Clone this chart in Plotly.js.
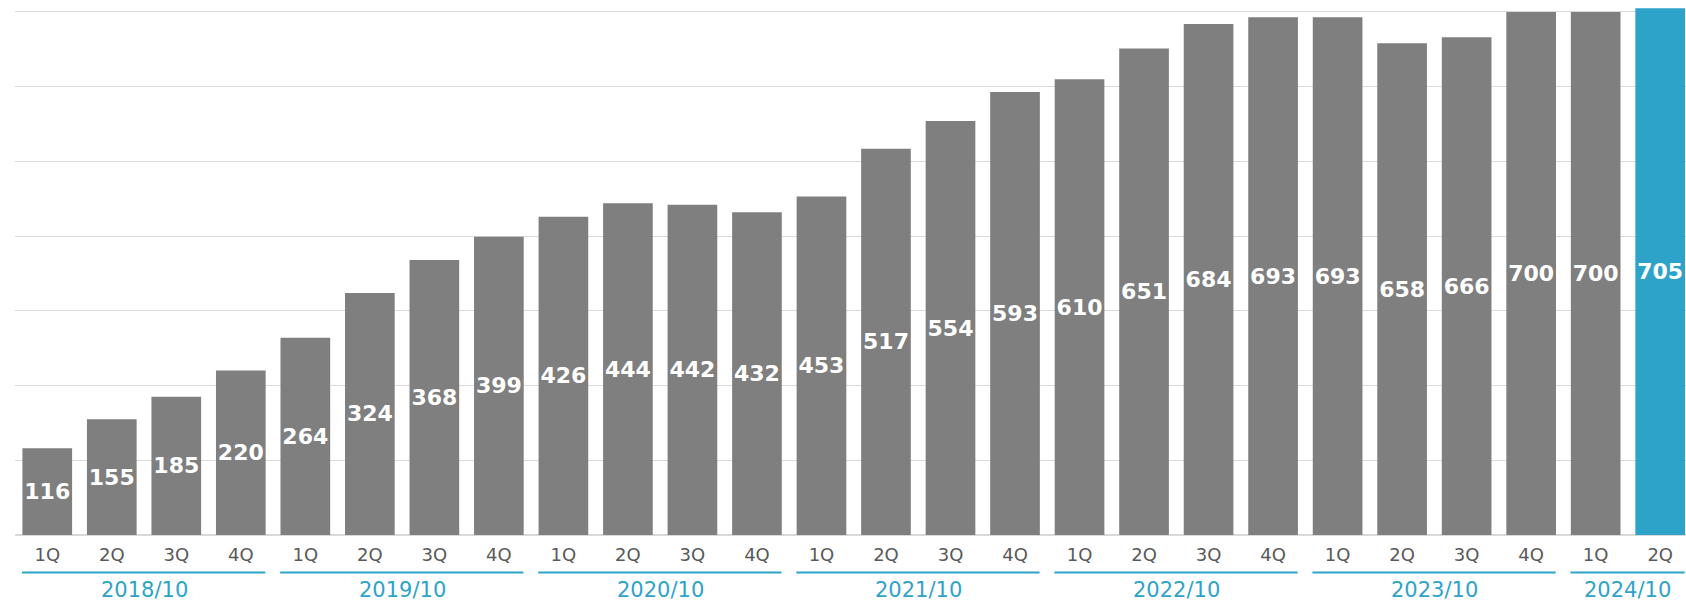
<!DOCTYPE html>
<html>
<head>
<meta charset="utf-8">
<script src="https://cdn.plot.ly/plotly-3.0.1.min.js"></script>
<style>
  html, body { margin: 0; padding: 0; background: #ffffff; overflow: hidden; }
  #chart { width: 1686px; height: 603px; }
</style>
</head>
<body>
<div id="chart"></div>
<script>
// ---- data ----
const fiscalYears = ['2018/10', '2019/10', '2020/10', '2021/10', '2022/10', '2023/10', '2024/10'];
const quartersPerYear = [4, 4, 4, 4, 4, 4, 2];
const quarterNames = ['1Q', '2Q', '3Q', '4Q'];
const values = [116, 155, 185, 220, 264, 324, 368, 399, 426, 444, 442, 432, 453, 517, 554, 593,
                610, 651, 684, 693, 693, 658, 666, 700, 700, 705];

// ---- styles ----
const GRAY = '#7f7f7f';
const BLUE = '#2ea3c9';
const FONT = 'DejaVu Sans';

const quarterLabels = [];
fiscalYears.forEach((y, i) => {
  for (let q = 0; q < quartersPerYear[i]; q++) quarterLabels.push(quarterNames[q]);
});
const xIdx = values.map((_, i) => i);
const colors = values.map((_, i) => i === values.length - 1 ? BLUE : GRAY);

const trace = {
  type: 'bar',
  x: xIdx,
  y: values,
  marker: { color: colors, line: { width: 0 } },
  width: 0.77,
  text: values.map(String),
  texttemplate: '%{text}',
  textposition: 'inside',
  insidetextanchor: 'middle',
  constraintext: 'none',
  textangle: 0,
  textfont: { family: FONT, size: 22, color: '#ffffff', weight: 'bold' },
  hoverinfo: 'none'
};

const annotations = [];
const shapes = [];
let start = 0;
fiscalYears.forEach((y, i) => {
  const n = quartersPerYear[i];
  const first = start, last = start + n - 1;
  annotations.push({
    x: (first + last) / 2, xref: 'x',
    y: 0, yref: 'paper', yanchor: 'middle', yshift: -55,
    text: y, showarrow: false,
    font: { family: FONT, size: 21, color: BLUE }
  });
  shapes.push({
    type: 'line', xref: 'x', yref: 'paper',
    ysizemode: 'pixel', yanchor: 0,
    x0: first - 0.5 + 0.11, x1: last + 0.5 - 0.12,
    y0: -37.5, y1: -37.5,
    line: { color: BLUE, width: 2 }
  });
  start += n;
});

const layout = {
  width: 1686, height: 603,
  margin: { l: 15, r: 0, t: 0, b: 68 },
  paper_bgcolor: '#ffffff', plot_bgcolor: '#ffffff',
  showlegend: false,
  xaxis: {
    range: [-0.5, 25.4],
    tickmode: 'array', tickvals: xIdx, ticktext: quarterLabels,
    tickfont: { family: FONT, size: 18, color: '#595959' },
    ticklabelstandoff: 7,
    ticks: '', showgrid: false, zeroline: false, showline: false,
    fixedrange: true
  },
  yaxis: {
    range: [0, 716],
    dtick: 100, tick0: 0,
    showticklabels: false, ticks: '',
    showgrid: true, gridcolor: '#d9d9d9', gridwidth: 1,
    zeroline: true, zerolinecolor: '#d9d9d9', zerolinewidth: 2,
    showline: false, fixedrange: true
  },
  annotations: annotations,
  shapes: shapes
};

Plotly.newPlot('chart', [trace], layout, { displayModeBar: false, staticPlot: true });
</script>
</body>
</html>
